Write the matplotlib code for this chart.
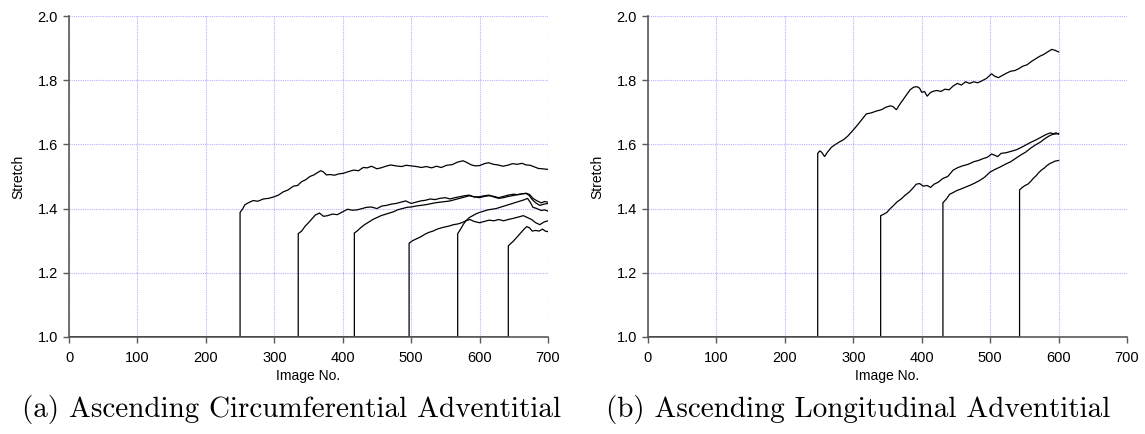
import matplotlib
matplotlib.use("Agg")
import matplotlib.pyplot as plt

# ---------------- data: (a) Ascending Circumferential Adventitial ----------------
a1_x = [0, 250, 250, 254, 257, 262, 269, 276, 284, 292, 300, 306, 313, 320, 328, 334, 340, 346, 352, 358,
        363, 368, 372, 376, 382, 388, 394, 401, 408, 416, 423, 430, 436, 442, 450, 456, 463, 470, 478,
        486, 493, 500, 508, 515, 522, 530, 537, 544, 552, 560, 568, 576, 582, 588, 594, 600, 607, 613,
        620, 627, 634, 641, 648, 655, 662, 668, 674, 680, 686, 692, 700]
a1_y = [1.0, 1.0, 1.388, 1.400, 1.412, 1.418, 1.425, 1.423, 1.430, 1.432, 1.437, 1.442, 1.452, 1.458, 1.470, 1.472,
        1.484, 1.490, 1.500, 1.505, 1.512, 1.518, 1.514, 1.505, 1.506, 1.504, 1.508, 1.510, 1.515, 1.520,
        1.518, 1.528, 1.527, 1.532, 1.524, 1.527, 1.532, 1.536, 1.533, 1.531, 1.535, 1.533, 1.531, 1.528,
        1.531, 1.527, 1.532, 1.528, 1.535, 1.537, 1.545, 1.549, 1.543, 1.536, 1.533, 1.534, 1.540, 1.543,
        1.538, 1.536, 1.532, 1.535, 1.540, 1.538, 1.541, 1.536, 1.535, 1.530, 1.525, 1.524, 1.522]

a2_x = [0, 335, 335, 340, 345, 350, 355, 360, 366, 372, 378, 385, 392, 400, 407, 414, 421, 428, 435, 442,
        450, 457, 464, 471, 478, 485, 492, 500, 507, 514, 521, 528, 535, 542, 550, 557, 564, 571, 578,
        585, 592, 600, 607, 614, 621, 628, 635, 642, 650, 656, 662, 668, 673, 678, 684, 690, 695, 700]
a2_y = [1.0, 1.0, 1.322, 1.330, 1.345, 1.356, 1.368, 1.380, 1.386, 1.376, 1.378, 1.383, 1.381, 1.390, 1.398,
        1.395, 1.396, 1.400, 1.404, 1.405, 1.400, 1.408, 1.410, 1.414, 1.416, 1.420, 1.424, 1.416, 1.420,
        1.424, 1.426, 1.430, 1.428, 1.432, 1.434, 1.430, 1.434, 1.437, 1.440, 1.442, 1.436, 1.437, 1.440,
        1.442, 1.436, 1.432, 1.434, 1.438, 1.441, 1.444, 1.446, 1.448, 1.444, 1.432, 1.424, 1.418, 1.422, 1.420]

a3_x = [0, 417, 417, 421, 426, 432, 438, 444, 450, 456, 462, 468, 474, 480, 487, 494, 500, 507, 514, 521,
        528, 535, 542, 550, 557, 564, 571, 578, 585, 592, 600, 607, 614, 621, 628, 635, 642, 650, 656,
        662, 668, 672, 677, 682, 688, 694, 700]
a3_y = [1.0, 1.0, 1.324, 1.330, 1.340, 1.350, 1.358, 1.366, 1.372, 1.378, 1.382, 1.386, 1.390, 1.396, 1.400,
        1.404, 1.405, 1.408, 1.410, 1.412, 1.415, 1.418, 1.420, 1.422, 1.424, 1.428, 1.432, 1.436, 1.440,
        1.437, 1.434, 1.438, 1.440, 1.438, 1.434, 1.438, 1.442, 1.445, 1.443, 1.446, 1.447, 1.442, 1.428,
        1.418, 1.410, 1.414, 1.416]

a4_x = [0, 497, 497, 502, 508, 514, 520, 526, 532, 538, 544, 550, 556, 562, 568, 574, 580, 586, 592, 600,
        607, 614, 621, 628, 635, 642, 650, 657, 664, 670, 676, 682, 688, 694, 700]
a4_y = [1.0, 1.0, 1.292, 1.300, 1.306, 1.312, 1.320, 1.326, 1.330, 1.336, 1.340, 1.343, 1.346, 1.350, 1.352,
        1.356, 1.362, 1.366, 1.360, 1.356, 1.360, 1.364, 1.362, 1.366, 1.362, 1.366, 1.370, 1.374, 1.378,
        1.372, 1.366, 1.356, 1.350, 1.358, 1.362]

a5_x = [0, 568, 568, 572, 576, 580, 585, 590, 595, 600, 606, 612, 618, 624, 630, 636, 642, 648, 654, 660,
        666, 670, 674, 678, 684, 690, 695, 700]
a5_y = [1.0, 1.0, 1.322, 1.335, 1.350, 1.362, 1.372, 1.378, 1.384, 1.388, 1.392, 1.396, 1.398, 1.400, 1.404,
        1.408, 1.412, 1.416, 1.420, 1.424, 1.428, 1.432, 1.420, 1.404, 1.400, 1.394, 1.396, 1.392]

a6_x = [0, 642, 642, 646, 650, 655, 660, 665, 669, 673, 677, 682, 687, 692, 696, 700]
a6_y = [1.0, 1.0, 1.284, 1.292, 1.300, 1.312, 1.324, 1.336, 1.344, 1.340, 1.330, 1.332, 1.330, 1.336, 1.330, 1.328]

# ---------------- data: (b) Ascending Longitudinal Adventitial ----------------
b1_x = [0, 248, 248, 251, 254, 258, 262, 268, 274, 280, 286, 292, 300, 306, 312, 319, 326, 334, 341, 348,
        354, 358, 363, 368, 373, 378, 383, 388, 393, 397, 400, 404, 408, 412, 416, 422, 428, 434, 440,
        446, 452, 458, 464, 470, 476, 482, 488, 495, 502, 507, 512, 518, 524, 530, 536, 542, 548, 554,
        560, 566, 572, 578, 584, 590, 595, 600]
b1_y = [1.0, 1.0, 1.572, 1.580, 1.575, 1.562, 1.575, 1.591, 1.600, 1.608, 1.615, 1.626, 1.645, 1.660, 1.676,
        1.695, 1.698, 1.704, 1.708, 1.716, 1.720, 1.718, 1.708, 1.725, 1.740, 1.755, 1.770, 1.778, 1.780,
        1.775, 1.762, 1.765, 1.750, 1.760, 1.765, 1.768, 1.765, 1.772, 1.770, 1.782, 1.790, 1.785, 1.795,
        1.790, 1.795, 1.792, 1.798, 1.806, 1.820, 1.812, 1.808, 1.815, 1.822, 1.828, 1.830, 1.836, 1.844,
        1.848, 1.858, 1.866, 1.874, 1.880, 1.888, 1.896, 1.893, 1.888]

b2_x = [0, 340, 340, 344, 349, 354, 359, 364, 370, 376, 382, 388, 392, 397, 402, 408, 413, 418, 424, 431,
        438, 446, 453, 461, 468, 476, 483, 490, 496, 502, 507, 511, 516, 523, 530, 538, 545, 552, 559,
        567, 574, 581, 588, 594, 600]
b2_y = [1.0, 1.0, 1.378, 1.382, 1.388, 1.400, 1.410, 1.421, 1.430, 1.442, 1.452, 1.466, 1.476, 1.478, 1.470,
        1.472, 1.466, 1.476, 1.482, 1.494, 1.500, 1.520, 1.528, 1.534, 1.538, 1.546, 1.550, 1.556, 1.560,
        1.570, 1.566, 1.562, 1.572, 1.574, 1.578, 1.583, 1.590, 1.598, 1.606, 1.614, 1.622, 1.630, 1.636,
        1.632, 1.634]

b3_x = [0, 431, 431, 436, 441, 446, 451, 456, 463, 471, 478, 485, 492, 500, 507, 515, 522, 530, 537, 544,
        552, 559, 566, 574, 580, 586, 592, 596, 600]
b3_y = [1.0, 1.0, 1.418, 1.430, 1.445, 1.450, 1.456, 1.460, 1.466, 1.473, 1.480, 1.488, 1.498, 1.514, 1.522,
        1.530, 1.538, 1.546, 1.556, 1.566, 1.576, 1.588, 1.598, 1.608, 1.618, 1.626, 1.632, 1.636, 1.632]

b4_x = [0, 543, 543, 547, 551, 555, 559, 563, 567, 571, 575, 579, 583, 587, 591, 595, 600]
b4_y = [1.0, 1.0, 1.458, 1.466, 1.472, 1.476, 1.484, 1.494, 1.502, 1.512, 1.520, 1.526, 1.534, 1.540, 1.544, 1.548, 1.550]

x_ticks = [0, 100, 200, 300, 400, 500, 600, 700]
y_ticks = [1.0, 1.2, 1.4, 1.6, 1.8, 2.0]
x_label = "Image No."
y_label = "Stretch"
captions = ["(a) Ascending Circumferential Adventitial", "(b) Ascending Longitudinal Adventitial"]

panels = [
    [(a1_x, a1_y), (a2_x, a2_y), (a3_x, a3_y), (a4_x, a4_y), (a5_x, a5_y), (a6_x, a6_y)],
    [(b1_x, b1_y), (b2_x, b2_y), (b3_x, b3_y), (b4_x, b4_y)],
]

W, H = 1145, 434
fig = plt.figure(figsize=(W / 100, H / 100), dpi=100)

axes_px = [(69, 16, 548, 337), (648, 16, 1127, 337)]
spine_col = "#5a5a5a"
grid_col = "#b4b4ff"

for i, (x0, y0, x1, y1) in enumerate(axes_px):
    ax = fig.add_axes([x0 / W, 1 - y1 / H, (x1 - x0) / W, (y1 - y0) / H])
    for xs, ys in panels[i]:
        ax.plot(xs, ys, color="black", lw=0.9, solid_joinstyle="miter")
    ax.set_xlim(0, 700)
    ax.set_ylim(1.0, 2.0)
    ax.set_xticks(x_ticks)
    ax.set_yticks(y_ticks)
    ax.set_xticklabels([str(t) for t in x_ticks])
    ax.set_yticklabels([f"{t:.1f}" for t in y_ticks])
    ax.grid(True, color=grid_col, linestyle=(0, (1, 1)), lw=0.8)
    ax.set_axisbelow(True)
    for s in ["top", "right"]:
        ax.spines[s].set_visible(False)
    for s in ["left", "bottom"]:
        ax.spines[s].set_color(spine_col)
        ax.spines[s].set_linewidth(1.2)
    ax.tick_params(axis="both", direction="out", length=4, width=1.0, color=spine_col,
                   labelsize=10.5, pad=4)
    ax.tick_params(axis="x", pad=6)
    for lab in ax.get_xticklabels() + ax.get_yticklabels():
        lab.set_fontfamily("Liberation Sans")
    ax.set_xlabel(x_label, fontsize=10, family="Liberation Sans", labelpad=3)
    ax.set_ylabel(y_label, fontsize=10, family="Liberation Sans", labelpad=9)
    fig.text([292, 858][i] / W, 1 - 410 / H, captions[i], ha="center", va="center",
             fontsize=21, family="cmr10")

fig.savefig("out.png", dpi=100)
